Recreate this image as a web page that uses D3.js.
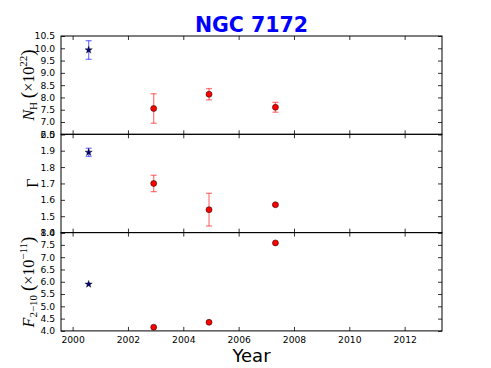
<!DOCTYPE html>
<html>
<head>
<meta charset="utf-8">
<script src="https://cdn.jsdelivr.net/npm/d3@7"></script>
<style>
  body { margin: 0; background: #fff; }
  svg { display: block; }
</style>
</head>
<body>
<svg id="chart" width="491" height="368"></svg>
<script>
// observation dates (decimal year) and which instrument group they belong to
var years = [2000.58, 2002.93, 2004.93, 2007.33];
var groups = ["star", "circle", "circle", "circle"];

// column density, 1e22 cm^-2
var nh = [9.93, 7.55, 8.13, 7.60];
var nhErr = [0.38, 0.60, 0.23, 0.20];

// photon index
var gamma = [1.89, 1.70, 1.54, 1.57];
var gammaErr = [0.025, 0.05, 0.10, 0.005];

// 2-10 keV flux, 1e-11 erg/cm2/s
var flux = [5.90, 4.15, 4.35, 7.58];
var fluxErr = [0, 0, 0, 0];

var xTicks = [2000, 2002, 2004, 2006, 2008, 2010, 2012];
var nhTicks = [6.5, 7.0, 7.5, 8.0, 8.5, 9.0, 9.5, 10.0, 10.5];
var gammaTicks = [1.4, 1.5, 1.6, 1.7, 1.8, 1.9, 2.0];
var fluxTicks = [4.0, 4.5, 5.0, 5.5, 6.0, 6.5, 7.0, 7.5, 8.0];

var svg = d3.select("#chart");
var left = 61, right = 442;
var tops = [36, 134.3, 232.6];
var panelH = 98.3;

var x = d3.scaleLinear().domain([1999.58, 2013.35]).range([left, right]);

var fmt = d3.format(".1f");
var tickFont = "DejaVu Sans, sans-serif";

var panels = [
  {vals: nh, errs: nhErr, domain: [6.5, 10.5], ticks: nhTicks},
  {vals: gamma, errs: gammaErr, domain: [1.4, 2.0], ticks: gammaTicks},
  {vals: flux, errs: fluxErr, domain: [4.0, 8.0], ticks: fluxTicks}
];

panels.forEach(function(p, i) {
  var top = tops[i], bottom = top + panelH;
  var y = d3.scaleLinear().domain(p.domain).range([bottom, top]);
  var g = svg.append("g");

  // axes: inward ticks on all four sides
  var yl = g.append("g").attr("transform", "translate(" + left + ",0)")
    .call(d3.axisLeft(y).tickValues(p.ticks).tickFormat(fmt).tickSize(-4).tickPadding(6));
  var yr = g.append("g").attr("transform", "translate(" + right + ",0)")
    .call(d3.axisRight(y).tickValues(p.ticks).tickFormat("").tickSize(-4));
  var xt = g.append("g").attr("transform", "translate(0," + top + ")")
    .call(d3.axisTop(x).tickValues(xTicks).tickFormat("").tickSize(-4));
  var xb = g.append("g").attr("transform", "translate(0," + bottom + ")")
    .call(d3.axisBottom(x).tickValues(xTicks).tickFormat(i == 2 ? d3.format("d") : "").tickSize(-4).tickPadding(6));

  [yl, yr, xt, xb].forEach(function(a) {
    a.select(".domain").remove();
    a.selectAll("line").attr("stroke", "#000").attr("stroke-width", 0.8);
    a.selectAll("text").attr("font-family", tickFont).attr("font-size", 9.2).attr("fill", "#000");
  });

  g.append("rect")
    .attr("x", left).attr("y", top)
    .attr("width", right - left).attr("height", panelH)
    .attr("fill", "none").attr("stroke", "#000").attr("stroke-width", 1);

  // error bars
  var eb = g.selectAll(".err").data(years.map(function(yr, k) {
      return {x: yr, v: p.vals[k], e: p.errs[k], grp: groups[k]};
    }).filter(function(d) { return d.e > 0; }))
    .enter().append("g")
    .attr("stroke", function(d) { return d.grp == "star" ? "blue" : "red"; })
    .attr("stroke-opacity", 0.5)
    .attr("stroke-width", 1.3);
  eb.append("line")
    .attr("x1", function(d) { return x(d.x); }).attr("x2", function(d) { return x(d.x); })
    .attr("y1", function(d) { return y(d.v - d.e); }).attr("y2", function(d) { return y(d.v + d.e); });
  [-1, 1].forEach(function(s) {
    eb.append("line")
      .attr("x1", function(d) { return x(d.x) - 3; }).attr("x2", function(d) { return x(d.x) + 3; })
      .attr("y1", function(d) { return y(d.v + s * d.e); }).attr("y2", function(d) { return y(d.v + s * d.e); });
  });

  // markers
  years.forEach(function(yr, k) {
    if (groups[k] == "star") {
      g.append("path")
        .attr("d", d3.symbol().type(d3.symbolStar).size(16)())
        .attr("transform", "translate(" + x(yr) + "," + y(p.vals[k]) + ")")
        .attr("fill", "#000080").attr("stroke", "#000").attr("stroke-width", 0.4);
    } else {
      g.append("circle")
        .attr("cx", x(yr)).attr("cy", y(p.vals[k])).attr("r", 3)
        .attr("fill", "red").attr("stroke", "#000").attr("stroke-width", 0.5);
    }
  });
});

// title and x label
svg.append("text")
  .attr("x", (left + right) / 2).attr("y", 32.3)
  .attr("text-anchor", "middle")
  .attr("font-family", "DejaVu Sans, sans-serif").attr("font-weight", "bold")
  .attr("font-size", 20.5).attr("fill", "blue")
  .text("NGC 7172");

svg.append("text")
  .attr("x", (left + right) / 2).attr("y", 361.5)
  .attr("text-anchor", "middle")
  .attr("font-family", "DejaVu Sans, sans-serif")
  .attr("font-size", 18).attr("fill", "#000")
  .text("Year");

// y labels (math-ish text)
function ylabel(cx, cy, parts) {
  var t = svg.append("text")
    .attr("transform", "translate(" + cx + "," + cy + ") rotate(-90)")
    .attr("text-anchor", "middle")
    .attr("font-family", "Liberation Serif, DejaVu Serif, serif")
    .attr("font-size", 16).attr("fill", "#000");
  parts.forEach(function(pt) {
    var s = t.append("tspan").text(pt.t);
    if (pt.it) s.attr("font-style", "italic");
    if (pt.sub) s.attr("font-size", 11).attr("dy", 3);
    if (pt.sup) s.attr("font-size", 11).attr("dy", -7);
    if (pt.big) s.attr("font-size", 19);
    if (pt.dy) s.attr("dy", pt.dy);
  });
}

ylabel(34, 85, [
  {t: "N", it: true}, {t: "H", sub: true},
  {t: "\u2009(", big: true, dy: -3}, {t: "\u00d710"}, {t: "22", sup: true}, {t: ")", big: true, dy: 7}
]);
ylabel(38, 183, [{t: "\u0393"}]);
ylabel(34, 282, [
  {t: "F", it: true}, {t: "2\u221210", sub: true},
  {t: "\u2009(", big: true, dy: -3}, {t: "\u00d710"}, {t: "\u221211", sup: true}, {t: ")", big: true, dy: 7}
]);
</script>
</body>
</html>
